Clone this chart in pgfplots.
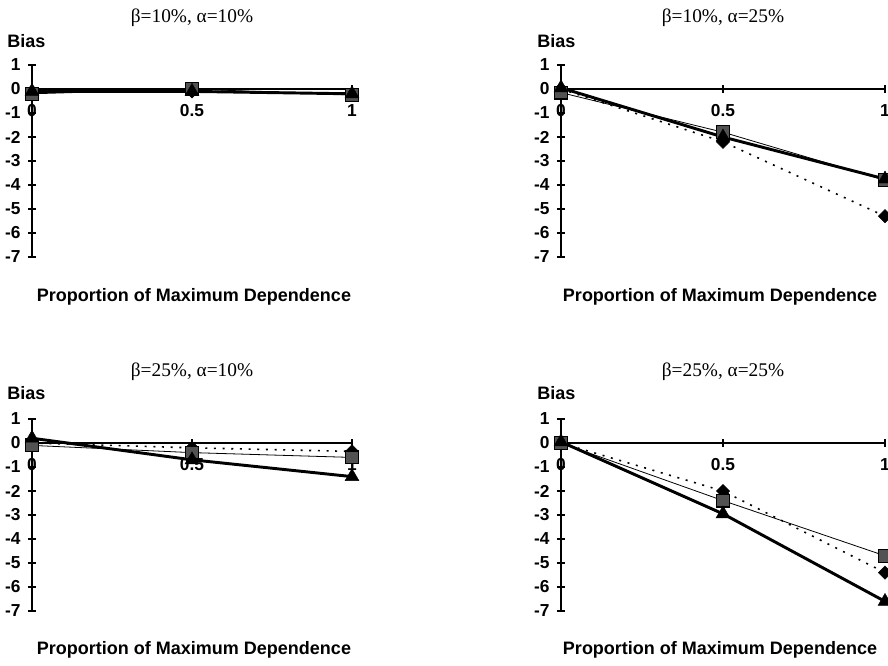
\documentclass[border=0pt]{standalone}
\usepackage{fontspec}
\setmainfont{Liberation Sans}
\newfontfamily\timesfont{Liberation Serif}
\usepackage{pgfplots}
\pgfplotsset{compat=1.18}

\pgfplotsset{
  biasaxis/.style={
    scale only axis, height=144pt,
    axis lines=middle, axis line style={-, line width=1.5pt},
    xmin=0, xmax=1, ymin=-7, ymax=1,
    xtick={0,0.5,1}, xticklabels={0,0.5,1},
    ytick={-7,-6,-5,-4,-3,-2,-1,0,1},
    yticklabels={-7,-6,-5,-4,-3,-2,-1,0,1},
    hide obscured x ticks=false, hide obscured y ticks=false,
    tick align=center, major tick length=6pt,
    tick style={black, line width=1pt},
    ticklabel style={font=\fontsize{13}{15}\selectfont\bfseries},
    xticklabel style={anchor=north, yshift=-5pt},
    yticklabel style={anchor=east, xshift=-2pt},
    clip=false, anchor=south west,
  },
  diaseries/.style={black, line width=1.2pt, dash pattern=on 1.5pt off 5pt,
    mark=square*, mark size=3.5pt,
    mark options={solid, rotate=45, fill=black, draw=black, line width=0.4pt}},
  sqseries/.style={black, line width=0.6pt,
    mark=square*, mark size=4.8pt,
    mark options={solid, fill=black!68, draw=black, line width=0.9pt}},
  triseries/.style={black, line width=2.2pt,
    mark=triangle*, mark size=6pt,
    mark options={solid, fill=black, draw=black, line width=0.3pt}},
}

\tikzset{
  ttl/.style={font=\timesfont\fontsize{14.5}{16}\selectfont, inner sep=0pt},
  lbl/.style={font=\fontsize{13.5}{16}\selectfont\bfseries, inner sep=0pt},
}

\begin{document}
\begin{tikzpicture}
\path[use as bounding box] (0,0) rectangle (666pt,-498.75pt);

% beta = 10%, alpha = 10%
\begin{axis}[biasaxis, width=240pt, at={(24pt,-192.75pt)}]
  \addplot[diaseries] coordinates {(0,-0.10) (0.5,-0.10) (1,-0.20)};
  \addplot[sqseries]  coordinates {(0,-0.20) (0.5,0.00) (1,-0.25)};
  \addplot[triseries] coordinates {(0,-0.10) (0.5,-0.10) (1,-0.20)};
\end{axis}
% beta = 10%, alpha = 25%
\begin{axis}[biasaxis, width=243pt, at={(420.75pt,-192.75pt)}]
  \addplot[diaseries] coordinates {(0,0.00) (0.5,-2.20) (1,-5.30)};
  \addplot[sqseries]  coordinates {(0,-0.15) (0.5,-1.80) (1,-3.80)};
  \addplot[triseries] coordinates {(0,0.05) (0.5,-2.00) (1,-3.75)};
\end{axis}
% beta = 25%, alpha = 10%
\begin{axis}[biasaxis, width=240pt, at={(24pt,-458.25pt)}]
  \addplot[diaseries] coordinates {(0,0.00) (0.5,-0.20) (1,-0.35)};
  \addplot[sqseries]  coordinates {(0,-0.10) (0.5,-0.40) (1,-0.60)};
  \addplot[triseries] coordinates {(0,0.20) (0.5,-0.70) (1,-1.40)};
\end{axis}
% beta = 25%, alpha = 25%
\begin{axis}[biasaxis, width=243pt, at={(420.75pt,-458.25pt)}]
  \addplot[diaseries] coordinates {(0,0.00) (0.5,-2.00) (1,-5.40)};
  \addplot[sqseries]  coordinates {(0,0.00) (0.5,-2.40) (1,-4.70)};
  \addplot[triseries] coordinates {(0,0.05) (0.5,-2.95) (1,-6.60)};
\end{axis}

% panel titles
\node[ttl] at (144pt,-13.5pt) {β=10\%, α=10\%};
\node[ttl] at (542.25pt,-13.5pt) {β=10\%, α=25\%};
\node[ttl] at (144pt,-279pt) {β=25\%, α=10\%};
\node[ttl] at (542.25pt,-279pt) {β=25\%, α=25\%};

% y-axis captions
\node[lbl, anchor=west] at (5.25pt,-30.75pt) {Bias};
\node[lbl, anchor=west] at (402.75pt,-30.75pt) {Bias};
\node[lbl, anchor=west] at (5.25pt,-294.75pt) {Bias};
\node[lbl, anchor=west] at (402.75pt,-294.75pt) {Bias};

% x-axis captions
\node[lbl] at (145.5pt,-222.75pt) {Proportion of Maximum Dependence};
\node[lbl] at (540pt,-222.75pt) {Proportion of Maximum Dependence};
\node[lbl] at (145.5pt,-487.5pt) {Proportion of Maximum Dependence};
\node[lbl] at (540pt,-487.5pt) {Proportion of Maximum Dependence};
\end{tikzpicture}
\end{document}
